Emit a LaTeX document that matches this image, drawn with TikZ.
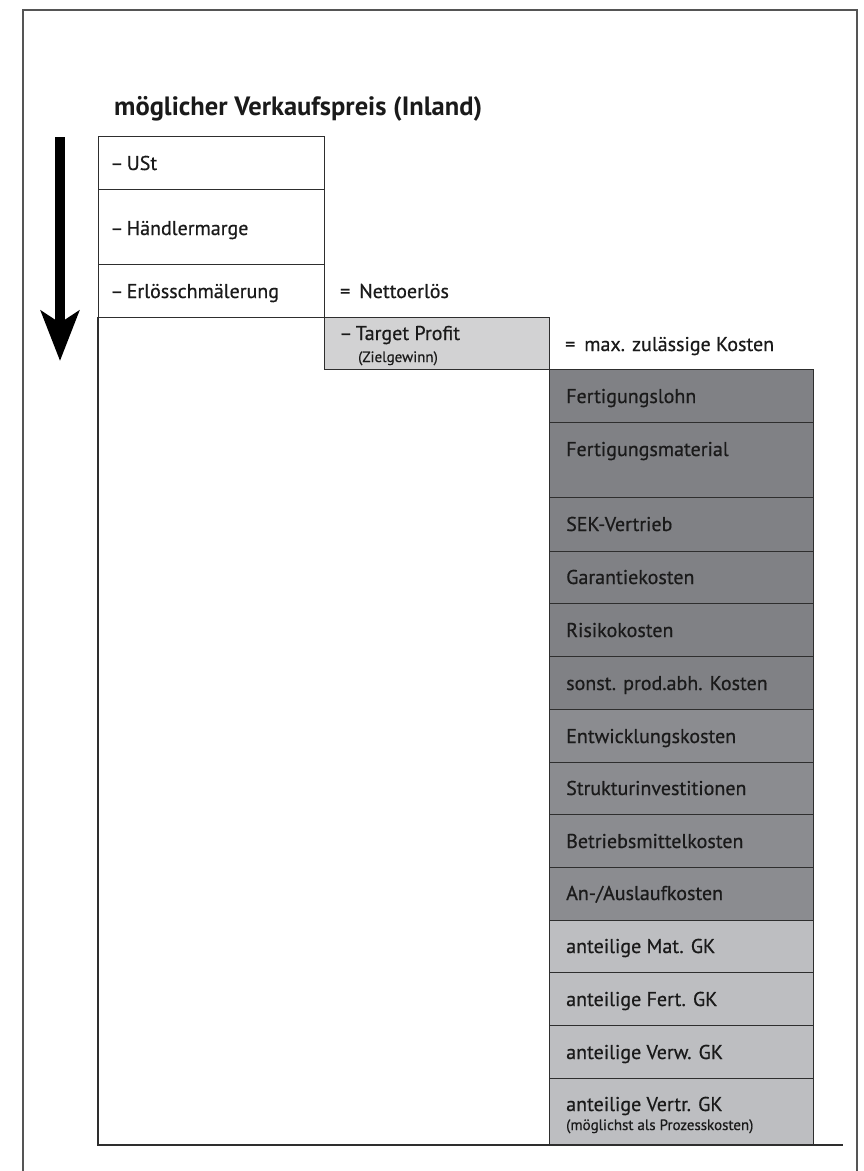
\documentclass[tikz,border=0pt]{standalone}
\usepackage{fontspec}
\setmainfont{PT Sans}
\newfontfamily\medfont[FakeBold=0.6]{PT Sans}
\usetikzlibrary{arrows.meta}
\definecolor{frm}{HTML}{555555}
\definecolor{edge}{HTML}{2E2E2E}
\definecolor{dk}{HTML}{808185}
\definecolor{md}{HTML}{8B8C90}
\definecolor{lt}{HTML}{BDBEC1}
\definecolor{tp}{HTML}{D2D2D3}
\definecolor{txt}{HTML}{1A1A1A}
\tikzset{
  cell/.style={draw=edge, line width=1.2pt, anchor=north west, inner sep=0pt, minimum width=264pt},
  lcell/.style={draw=edge, line width=1.2pt, anchor=north west, inner sep=0pt, minimum width=226pt},
  lab/.style={anchor=base west, inner sep=0pt, text=txt, font=\medfont\fontsize{20}{24}\selectfont},
  small/.style={anchor=base west, inner sep=0pt, text=txt, font=\medfont\fontsize{15}{18}\selectfont},
}
\begin{document}
\begin{tikzpicture}[x=1pt,y=-1pt]
\useasboundingbox (0,0) rectangle (863,1171);
% outer frame (open at the bottom)
\coordinate (f1) at (23,1171);
\coordinate (f2) at (23,10);
\coordinate (f3) at (857,10);
\coordinate (f4) at (857,1171);
\draw[frm, line width=1.4pt] (f1) -- (f2) -- (f3) -- (f4);
% title
\node[anchor=base west, inner sep=0pt, text=txt, font=\fontsize{26.5}{30}\selectfont\bfseries] (title) at (114,115) {möglicher Verkaufspreis (Inland)};
% arrow
\coordinate (a1) at (60,137);
\coordinate (a2) at (60,361);
\draw[black, line width=10pt, -{Stealth[length=50pt,width=38pt,inset=12pt]}] (a1) -- (a2);
% left column
\node[lcell, minimum height=53pt] (ust) at (98,136) {};
\node[lcell, minimum height=75pt] (hm) at (98,189) {};
\node[lcell, minimum height=53pt] (es) at (98,264) {};
\node[lab] (tust) at (110,170) {–\,USt};
\node[lab] (thm) at (110,235) {–\,Händlermarge};
\node[lab] (tes) at (110,298) {–\,Erlösschmälerung};
\node[lab] (tne) at (340,298) {=\hspace{0.45em}Nettoerlös};
% target profit
\node[draw=edge, line width=1.2pt, fill=tp, anchor=north west, inner sep=0pt, minimum width=225pt, minimum height=52pt] (tpf) at (324,317) {};
\node[lab] (ttp) at (339,340) {–\,Target Profit};
\node[small] (tzg) at (358,362) {(Zielgewinn)};
\node[lab] (tmk) at (565,351) {=\hspace{0.45em}max. zulässige Kosten};
% cost stack
\node[cell, fill=dk, minimum height=53pt] (r1) at (549,369) {};
\node[cell, fill=dk, minimum height=75pt] (r2) at (549,422) {};
\node[cell, fill=dk, minimum height=54pt] (r3) at (549,497) {};
\node[cell, fill=dk, minimum height=52pt] (r4) at (549,551) {};
\node[cell, fill=dk, minimum height=53pt] (r5) at (549,603) {};
\node[cell, fill=dk, minimum height=53pt] (r6) at (549,656) {};
\node[cell, fill=md, minimum height=53pt] (r7) at (549,709) {};
\node[cell, fill=md, minimum height=52pt] (r8) at (549,762) {};
\node[cell, fill=md, minimum height=53pt] (r9) at (549,814) {};
\node[cell, fill=md, minimum height=53pt] (r10) at (549,867) {};
\node[cell, fill=lt, minimum height=52pt] (r11) at (549,920) {};
\node[cell, fill=lt, minimum height=53pt] (r12) at (549,972) {};
\node[cell, fill=lt, minimum height=53pt] (r13) at (549,1025) {};
\node[cell, fill=lt, minimum height=67pt] (r14) at (549,1078) {};
\node[lab] (t1) at (566,403) {Fertigungslohn};
\node[lab] (t2) at (566,456) {Fertigungsmaterial};
\node[lab] (t3) at (566,531) {SEK-Vertrieb};
\node[lab] (t4) at (566,584) {Garantiekosten};
\node[lab] (t5) at (566,637) {Risikokosten};
\node[lab] (t6) at (566,690) {sonst. prod.abh. Kosten};
\node[lab] (t7) at (566,743) {Entwicklungskosten};
\node[lab] (t8) at (566,795) {Strukturinvestitionen};
\node[lab] (t9) at (566,848) {Betriebsmittelkosten};
\node[lab] (t10) at (566,900) {An-/Auslaufkosten};
\node[lab] (t11) at (566,953) {anteilige Mat. GK};
\node[lab] (t12) at (566,1006) {anteilige Fert. GK};
\node[lab] (t13) at (566,1059) {anteilige Verw. GK};
\node[lab] (t14) at (566,1111) {anteilige Vertr. GK};
\node[small] (t15) at (566,1130) {(möglichst als Prozesskosten)};
% open outline of the overall block
\coordinate (b1) at (98,317);
\coordinate (b2) at (98,1145);
\coordinate (b3) at (843,1145);
\draw[edge, line width=1.2pt] (b1) -- (b2) -- (b3);
\end{tikzpicture}
\end{document}
